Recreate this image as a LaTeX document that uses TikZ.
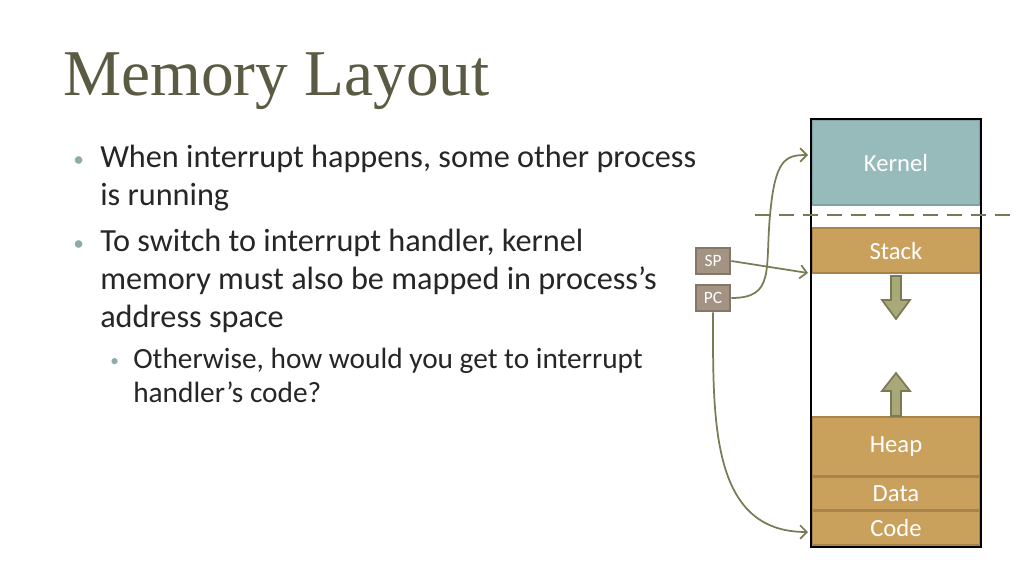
\documentclass[tikz,border=0pt]{standalone}
\usepackage{fontspec}
\setmainfont{Carlito}
\newfontfamily\titlefont{Liberation Serif}
\usetikzlibrary{arrows.meta}
\definecolor{olive}{HTML}{7A7A55}
\definecolor{kern}{HTML}{97BBBB}
\definecolor{kernb}{HTML}{7FA3A3}
\definecolor{seg}{HTML}{C9A05C}
\definecolor{segb}{HTML}{A8844A}
\definecolor{reg}{HTML}{A39382}
\definecolor{regb}{HTML}{86766A}
\definecolor{arr}{HTML}{A8A878}
\definecolor{txt}{HTML}{262626}
\definecolor{bul}{HTML}{8FAAAA}
\definecolor{ttl}{HTML}{5B5A42}
\tikzset{
 segbox/.style={fill=seg,draw=segb,line width=1.5pt},
 regbox/.style={fill=reg,draw=regb,line width=1.5pt,text=white,font=\fontsize{13}{13}\selectfont},
 lbl/.style={text=white,font=\fontsize{18.5}{18.5}\selectfont},
 conn/.style={draw=olive,line width=1.3pt,-{Straight Barb[length=5pt,width=10pt]}},
 bigarrow/.style={fill=arr,draw=olive,line width=1.3pt},
 body/.style={anchor=base west,text=txt,font=\fontsize{24.2}{24}\selectfont,inner sep=0},
 sub/.style={anchor=base west,text=txt,font=\fontsize{22}{22}\selectfont,inner sep=0},
 dot/.style={anchor=base west,text=bul,inner sep=0}
}
\begin{document}
\begin{tikzpicture}[x=0.75pt,y=-0.75pt]
\useasboundingbox (0,0) rectangle (1024,576);
\fill[white] (0,0) rectangle (1024,576);
\node[anchor=base west,inner sep=0,text=ttl,font=\titlefont\fontsize{49}{49}\selectfont] (title) at (63,95) {Memory Layout};
\node[dot,font=\fontsize{16}{16}\selectfont] (b1) at (73,166) {•};
\node[body] (t1) at (100,167) {When interrupt happens, some other process};
\node[body] (t2) at (100,205) {is running};
\node[dot,font=\fontsize{16}{16}\selectfont] (b2) at (73,250) {•};
\node[body] (t3) at (100,251) {To switch to interrupt handler, kernel};
\node[body] (t4) at (100,289) {memory must also be mapped in process’s};
\node[body] (t5) at (100,327) {address space};
\node[dot,font=\fontsize{13}{13}\selectfont] (b3) at (110,366) {•};
\node[sub] (t6) at (133,368) {Otherwise, how would you get to interrupt};
\node[sub] (t7) at (133,402) {handler’s code?};
% memory
\fill[white] (811,119) rectangle (981,547);
\fill[kern,draw=kernb,line width=2pt] (812,120) rectangle (980,205);
\node[lbl] (kernel) at (896,163) {Kernel};
\draw[segbox] (812,228) rectangle (980,273);
\node[lbl] (stack) at (896,251) {Stack};
\draw[segbox] (812,417) rectangle (980,476);
\node[lbl] (heap) at (896,447) {Heap};
\draw[segbox] (812,477) rectangle (980,510);
\node[lbl] (data) at (896,494) {Data};
\draw[segbox] (812,511) rectangle (980,545);
\node[lbl] (code) at (896,528) {Code};
\draw[black,line width=1.8pt] (811,119) rectangle (981,547);
\draw[olive,line width=2.2pt,dash pattern=on 11pt off 7pt] (755,215) -- (1015,215);
\draw[bigarrow] (891,276) -- (901,276) -- (901,300) -- (910,300) -- (896,319) -- (882,300) -- (891,300) -- cycle;
\draw[bigarrow] (891,416) -- (901,416) -- (901,391) -- (910,391) -- (896,373) -- (882,391) -- (891,391) -- cycle;
\node[regbox,minimum width=26pt,minimum height=20pt,inner sep=0] (sp) at (713,261) {SP};
\node[regbox,minimum width=26pt,minimum height=20pt,inner sep=0] (pc) at (713,298) {PC};
\coordinate (kin) at (808,155);
\coordinate (sin) at (808,273);
\coordinate (cin) at (808,532);
\draw[conn] (sp.east) -- (sin);
\draw[conn] (pc.east) .. controls (775,298) and (765,270) .. (770,215) .. controls (775,160) and (785,155) .. (kin);
\draw[conn] (pc.south) .. controls (713,420) and (710,532) .. (cin);
\end{tikzpicture}
\end{document}
